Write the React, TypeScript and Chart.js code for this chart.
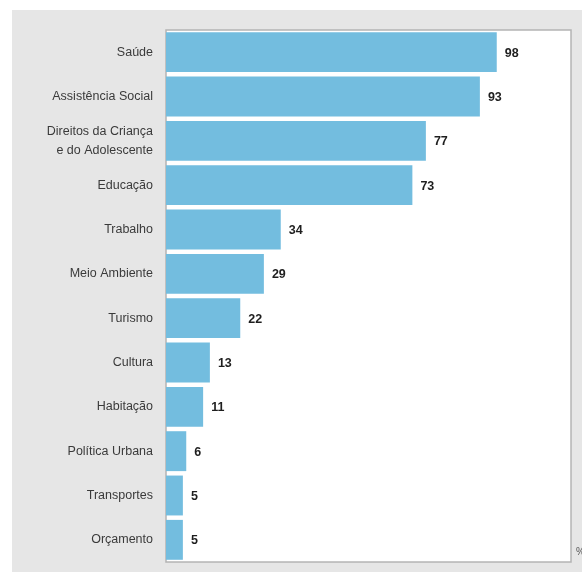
import React, { useEffect, useRef } from "react";
import { Chart, registerables } from "chart.js";

Chart.register(...registerables);

const categories: (string | string[])[] = [
  "Saúde",
  "Assistência Social",
  ["Direitos da Criança", "e do Adolescente"],
  "Educação",
  "Trabalho",
  "Meio Ambiente",
  "Turismo",
  "Cultura",
  "Habitação",
  "Política Urbana",
  "Transportes",
  "Orçamento",
];
const values: number[] = [98, 93, 77, 73, 34, 29, 22, 13, 11, 6, 5, 5];

const FONT = "'Liberation Sans', Arial, sans-serif";

const areaPlugin = {
  id: "areaPlugin",
  beforeDatasetsDraw(chart: any) {
    const { ctx, chartArea } = chart;
    ctx.save();
    ctx.fillStyle = "#ffffff";
    ctx.fillRect(chartArea.left, chartArea.top, chartArea.right - chartArea.left, chartArea.bottom - chartArea.top);
    ctx.strokeStyle = "#b4b4b4";
    ctx.lineWidth = 1.5;
    ctx.strokeRect(chartArea.left, chartArea.top, chartArea.right - chartArea.left, chartArea.bottom - chartArea.top);
    ctx.restore();
  },
  afterDatasetsDraw(chart: any) {
    const { ctx } = chart;
    const meta = chart.getDatasetMeta(0);
    ctx.save();
    ctx.fillStyle = "#1e1e1e";
    ctx.font = `bold 12.5px ${FONT}`;
    ctx.textBaseline = "middle";
    ctx.textAlign = "left";
    meta.data.forEach((bar: any, i: number) => {
      ctx.fillText(String(values[i]), bar.x + 8, bar.y + 1);
    });
    ctx.restore();
  },
};

export default function App() {
  const ref = useRef<HTMLCanvasElement>(null);
  useEffect(() => {
    if (!ref.current) return;
    const chart = new Chart(ref.current, {
      type: "bar",
      data: {
        labels: categories,
        datasets: [
          {
            data: values,
            backgroundColor: "#73bddf",
            borderWidth: 0,
            barPercentage: 0.9,
            categoryPercentage: 1,
          },
        ],
      },
      options: {
        indexAxis: "y",
        animation: false,
        responsive: false,
        layout: { padding: { top: 30, right: 11, bottom: 10, left: 0 } },
        plugins: { legend: { display: false }, tooltip: { enabled: false } },
        scales: {
          x: { display: false, min: 0, max: 120 },
          y: {
            afterFit(scale: any) {
              scale.width = 166;
              scale.paddingTop = 0;
              scale.paddingBottom = 0;
            },
            grid: { display: false, drawTicks: false },
            border: { display: false },
            ticks: {
              color: "#3a3a3a",
              padding: 13,
              font: { family: FONT, size: 12.5, lineHeight: 1.5 },
            },
          },
        },
      },
      plugins: [areaPlugin],
    } as any);
    return () => chart.destroy();
  }, []);

  return (
    <div style={{ position: "fixed", left: 0, top: 0, width: 582, height: 572, background: "#ffffff", overflow: "hidden" }}>
      <div style={{ position: "absolute", left: 12, top: 10, width: 570, height: 562, background: "#e6e6e6" }} />
      <canvas ref={ref} width={582} height={572} style={{ position: "absolute", left: 0, top: 0 }} />
      <div style={{ position: "absolute", left: 576, top: 546, fontFamily: FONT, fontSize: 10, color: "#555" }}>%</div>
    </div>
  );
}
